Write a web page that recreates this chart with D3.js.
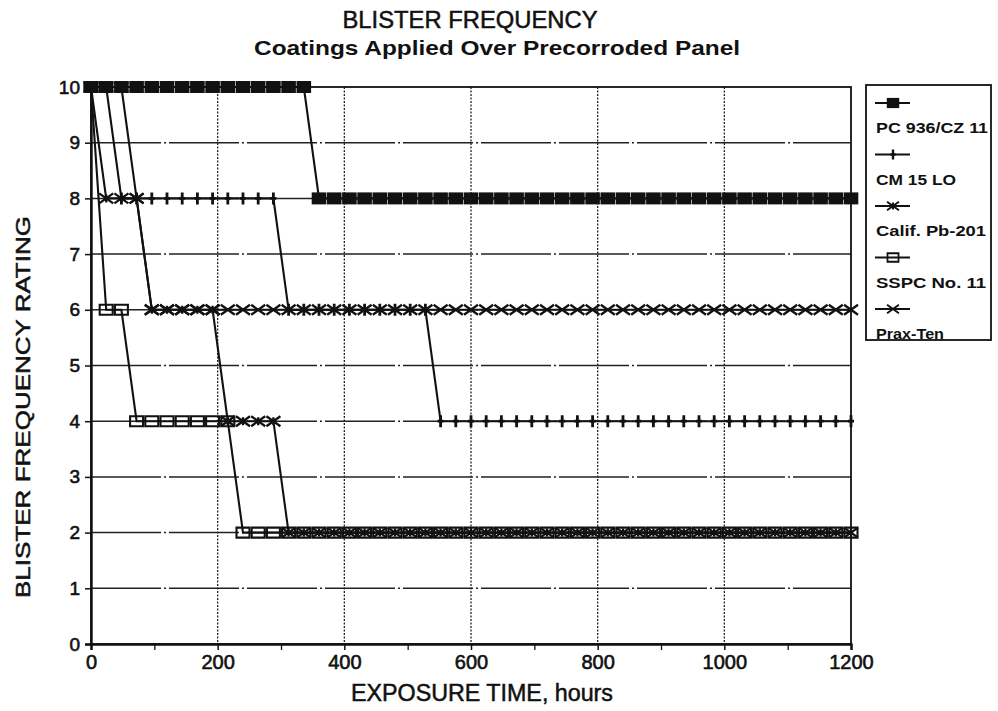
<!DOCTYPE html>
<html><head><meta charset="utf-8">
<script src="https://cdn.jsdelivr.net/npm/d3@7"></script>
<style>
body{margin:0;background:#fff;}
svg{display:block;}
text{font-family:"Liberation Sans",Arial,Helvetica,sans-serif;fill:#111;}
</style></head>
<body>
<svg id="chart" width="998" height="711"></svg>
<script>
// ---------------- data ----------------
const title = "BLISTER FREQUENCY";
const subtitle = "Coatings Applied Over Precorroded Panel";
const xTitle = "EXPOSURE TIME, hours";
const yTitle = "BLISTER FREQUENCY RATING";
const xTicks = [0, 200, 400, 600, 800, 1000, 1200];
const xMinorTicks = [100, 300, 500, 700, 900, 1100];
const yTicks = [0, 1, 2, 3, 4, 5, 6, 7, 8, 9, 10];
const seriesNames = ["PC 936/CZ 11", "CM 15 LO", "Calif. Pb-201", "SSPC No. 11", "Prax-Ten"];
const seriesMarkers = ["filledSquare", "plus", "asterisk", "openSquare", "cross"];

// Exposure hours at which each panel was rated
const hours = [0,24,48,72,96,120,144,168,192,216,240,264,288,312,336,360,384,408,432,456,480,
  504,528,552,576,600,624,648,672,696,720,744,768,792,816,840,864,888,912,936,960,984,1008,
  1032,1056,1080,1104,1128,1152,1176,1200];

const pc936 = [10,10,10,10,10,10,10,10,10,10,10,10,10,10,10,8,8,8,8,8,8,
  8,8,8,8,8,8,8,8,8,8,8,8,8,8,8,8,8,8,8,8,8,8,8,8,8,8,8,8,8,8];
const cm15lo = [10,10,8,8,8,8,8,8,8,8,8,8,8,6,6,6,6,6,6,6,6,
  6,6,4,4,4,4,4,4,4,4,4,4,4,4,4,4,4,4,4,4,4,4,4,4,4,4,4,4,4,4];
const califPb201 = [10,8,8,8,6,6,6,6,6,4,4,4,4,2,2,2,2,2,2,2,2,
  2,2,2,2,2,2,2,2,2,2,2,2,2,2,2,2,2,2,2,2,2,2,2,2,2,2,2,2,2,2];
const sspcNo11 = [10,6,6,4,4,4,4,4,4,4,2,2,2,2,2,2,2,2,2,2,2,
  2,2,2,2,2,2,2,2,2,2,2,2,2,2,2,2,2,2,2,2,2,2,2,2,2,2,2,2,2,2];
const praxTen = [10,10,10,8,6,6,6,6,6,6,6,6,6,6,6,6,6,6,6,6,6,
  6,6,6,6,6,6,6,6,6,6,6,6,6,6,6,6,6,6,6,6,6,6,6,6,6,6,6,6,6,6];

const seriesValues = [pc936, cm15lo, califPb201, sspcNo11, praxTen];

// ---------------- layout ----------------
const svg = d3.select("#chart");
const plotL = 91, plotR = 851, plotT = 87, plotB = 644;
const x = d3.scaleLinear().domain([0, 1200]).range([plotL, plotR]);
const y = d3.scaleLinear().domain([0, 10]).range([plotB, plotT]);
const ink = "#111";

// gridlines
svg.append("g").selectAll("line").data(yTicks.filter(d => d > 0 && d < 10)).join("line")
  .attr("x1", plotL).attr("x2", plotR)
  .attr("y1", d => y(d)).attr("y2", d => y(d))
  .attr("stroke", "#222").attr("stroke-width", 1.5)
  .attr("stroke-dasharray", "70 3 2 3");
svg.append("g").selectAll("line").data(xTicks.filter(d => d > 0 && d < 1200)).join("line")
  .attr("x1", d => x(d)).attr("x2", d => x(d))
  .attr("y1", plotT).attr("y2", plotB)
  .attr("stroke", "#222").attr("stroke-width", 1.3)
  .attr("stroke-dasharray", "2 1.5");

// frame
svg.append("rect").attr("x", plotL).attr("y", plotT).attr("width", plotR - plotL).attr("height", plotB - plotT)
  .attr("fill", "none").attr("stroke", ink).attr("stroke-width", 1.8);

// axes
const labelStyle = sel => sel.attr("fill", ink).attr("stroke", ink).attr("stroke-width", 0.6)
  .style("font-family", "Liberation Sans, Arial, sans-serif");
const xAxis = d3.axisBottom(x).tickValues(xTicks).tickSize(6).tickPadding(3).tickFormat(d3.format("d"));
const gx = svg.append("g").attr("transform", `translate(0,${plotB})`).call(xAxis);
gx.select(".domain").attr("stroke", ink).attr("stroke-width", 2.4);
gx.selectAll(".tick line").attr("stroke", ink).attr("stroke-width", 1.5);
gx.selectAll(".tick text").attr("font-size", 20).attr("dy", "0.8em").call(labelStyle);
const gxm = svg.append("g").attr("transform", `translate(0,${plotB})`)
  .call(d3.axisBottom(x).tickValues(xMinorTicks).tickSize(6).tickFormat(""));
gxm.select(".domain").remove();
gxm.selectAll(".tick line").attr("stroke", ink).attr("stroke-width", 1.3);

const yAxis = d3.axisLeft(y).tickValues(yTicks).tickSize(6).tickPadding(5).tickFormat(d3.format("d"));
const gy = svg.append("g").attr("transform", `translate(${plotL},0)`).call(yAxis);
gy.select(".domain").attr("stroke", ink).attr("stroke-width", 2.4);
gy.selectAll(".tick line").attr("stroke", ink).attr("stroke-width", 1.5);
gy.selectAll(".tick text").attr("font-size", 19).call(labelStyle);

// ---------------- markers ----------------
function markerPath(type) {
  switch (type) {
    case "filledSquare": return "M-7.3,-6H7.3V6H-7.3Z";
    case "plus": return "M0,-6V6M-3,0H3";
    case "asterisk": return "M-7,-5L7,5M-7,5L7,-5M0,-4V4";
    case "openSquare": return "M-6.5,-5H6.5V5H-6.5Z";
    case "cross": return "M-7,-5L7,5M-7,5L7,-5";
  }
}
function styleMarker(sel, type) {
  if (type === "filledSquare") sel.attr("fill", ink).attr("stroke", "none");
  else sel.attr("fill", "none").attr("stroke", ink)
    .attr("stroke-width", type === "plus" ? 2.8 : (type === "openSquare" ? 2.1 : 2.3));
}

const line = d3.line().x(d => x(d[0])).y(d => y(d[1]));
const drawOrder = [0, 1, 2, 4, 3];
drawOrder.forEach(i => {
  const pts = hours.map((h, k) => [h, seriesValues[i][k]]);
  svg.append("path").datum(pts).attr("d", line)
    .attr("fill", "none").attr("stroke", ink).attr("stroke-width", 2.1);
});
drawOrder.forEach(i => {
  const pts = hours.map((h, k) => [h, seriesValues[i][k]]);
  const g = svg.append("g");
  const m = g.selectAll("path").data(pts).join("path")
    .attr("transform", d => `translate(${x(d[0])},${y(d[1])})`)
    .attr("d", markerPath(seriesMarkers[i]));
  styleMarker(m, seriesMarkers[i]);
});

// ---------------- titles ----------------
svg.append("text").attr("x", 470).attr("y", 28).attr("text-anchor", "middle")
  .attr("font-size", 24).attr("stroke", ink).attr("stroke-width", 0.5)
  .attr("textLength", 255).attr("lengthAdjust", "spacingAndGlyphs").text(title);
svg.append("text").attr("x", 497).attr("y", 55).attr("text-anchor", "middle")
  .attr("font-size", 21).attr("font-weight", "bold")
  .attr("textLength", 486).attr("lengthAdjust", "spacingAndGlyphs").text(subtitle);
svg.append("text").attr("x", 482).attr("y", 701).attr("text-anchor", "middle")
  .attr("font-size", 23).attr("stroke", ink).attr("stroke-width", 0.5)
  .attr("textLength", 262).attr("lengthAdjust", "spacingAndGlyphs").text(xTitle);
svg.append("text").attr("transform", "translate(30,407) rotate(-90)").attr("text-anchor", "middle")
  .attr("font-size", 21).attr("stroke", ink).attr("stroke-width", 0.5)
  .attr("textLength", 382).attr("lengthAdjust", "spacingAndGlyphs").text(yTitle);

// ---------------- legend ----------------
const legendWidths = [112, 80, 110, 110, 68];
const lg = svg.append("g");
lg.append("rect").attr("x", 866).attr("y", 85).attr("width", 125).attr("height", 255)
  .attr("fill", "#fff").attr("stroke", ink).attr("stroke-width", 1.8);
seriesNames.forEach((name, i) => {
  const sy = 103 + i * 51.5;
  lg.append("line").attr("x1", 875).attr("x2", 910).attr("y1", sy).attr("y2", sy)
    .attr("stroke", ink).attr("stroke-width", 2.2);
  const m = lg.append("path").attr("transform", `translate(893,${sy}) scale(0.85)`).attr("d", markerPath(seriesMarkers[i]));
  styleMarker(m, seriesMarkers[i]);
  lg.append("text").attr("x", 876).attr("y", sy + 30).attr("font-size", 14).attr("font-weight", "bold")
    .attr("textLength", legendWidths[i]).attr("lengthAdjust", "spacingAndGlyphs").text(name);
});
</script>
</body></html>
